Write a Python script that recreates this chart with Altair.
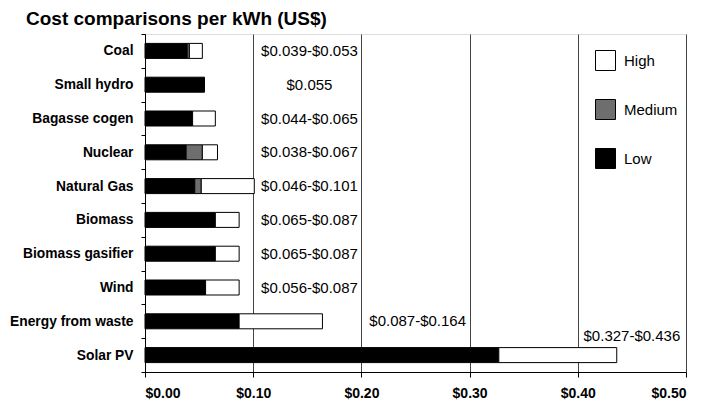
import altair as alt
import pandas as pd

categories = ["Coal", "Small hydro", "Bagasse cogen", "Nuclear", "Natural Gas",
              "Biomass", "Biomass gasifier", "Wind", "Energy from waste", "Solar PV"]
low_end = [0.039, 0.055, 0.044, 0.038, 0.046, 0.065, 0.065, 0.056, 0.087, 0.327]
medium_end = [0.041, 0.055, 0.044, 0.053, 0.052, 0.065, 0.065, 0.056, 0.087, 0.327]
high_end = [0.053, 0.055, 0.065, 0.067, 0.101, 0.087, 0.087, 0.087, 0.164, 0.436]
range_labels = ["$0.039-$0.053", "$0.055", "$0.044-$0.065", "$0.038-$0.067",
                "$0.046-$0.101", "$0.065-$0.087", "$0.065-$0.087", "$0.056-$0.087",
                "$0.087-$0.164", "$0.327-$0.436"]
levels = ["High", "Medium", "Low"]
level_colors = ["white", "#6e6e6e", "black"]
x_ticks = [0.0, 0.1, 0.2, 0.3, 0.4, 0.5]

FONT = "Liberation Sans"

rows = []
for c, lo, me, hi in zip(categories, low_end, medium_end, high_end):
    for lev, s, e in (("Low", 0.0, lo), ("Medium", lo, me), ("High", me, hi)):
        if e - s > 1e-9:
            rows.append({"category": c, "level": lev, "start": s, "end": e})
seg = pd.DataFrame(rows)

lab = pd.DataFrame({"category": categories, "label": range_labels, "high": high_end})
# label anchor placement (in data units) – mimics the hand-placed labels
lab["lx"] = [0.152 if h < 0.12 else (0.252 if h < 0.3 else 0.45) for h in high_end]
lab_main = lab[lab["high"] < 0.3]
lab_solar = lab[lab["high"] >= 0.3]

y_enc = alt.Y("category:N", sort=categories,
              scale=alt.Scale(paddingInner=0, paddingOuter=0),
              axis=alt.Axis(title=None, labelFontWeight="bold", labelFontSize=13.8,
                            labelColor="black", labelFont=FONT, labelPadding=8,
                            tickSize=4, tickBand="extent", tickColor="black",
                            domainColor="black", minExtent=137, maxExtent=137))
x_scale = alt.Scale(domain=[0, 0.5], nice=False)

bars = alt.Chart(seg).mark_bar(size=15, stroke="black", strokeWidth=1).encode(
    y=y_enc,
    x=alt.X("start:Q", scale=x_scale,
            axis=alt.Axis(values=x_ticks, format="$.2f", title=None, grid=True,
                          gridColor="#444444", gridWidth=1, labelFontWeight="bold",
                          labelFontSize=14, labelFont=FONT, labelColor="black",
                          tickSize=5, tickColor="black", domainColor="black",
                          labelPadding=9)),
    x2="end:Q",
    color=alt.Color("level:N",
                    scale=alt.Scale(domain=levels, range=level_colors),
                    legend=alt.Legend(title=None, orient="none", legendX=450, legendY=16,
                                      symbolType="square", symbolSize=400,
                                      symbolStrokeColor="black", symbolStrokeWidth=1,
                                      symbolOpacity=1, labelFontSize=15, labelFont=FONT,
                                      labelColor="black", rowPadding=24, labelOffset=8,
                                      padding=0)),
)

text_main = alt.Chart(lab_main).mark_text(fontSize=15, font=FONT, color="black",
                                          align="center", baseline="middle").encode(
    y=alt.Y("category:N", sort=categories),
    x=alt.X("lx:Q", scale=x_scale),
    text="label:N",
)
text_solar = alt.Chart(lab_solar).mark_text(fontSize=15, font=FONT, color="black",
                                            align="center", baseline="middle", dy=-19).encode(
    y=alt.Y("category:N", sort=categories),
    x=alt.X("lx:Q", scale=x_scale),
    text="label:N",
)

chart = alt.layer(bars, text_main, text_solar).properties(
    width=541, height=338,
    title=alt.TitleParams("Cost comparisons per kWh (US$)", anchor="start", fontSize=19,
                          fontWeight="bold", font=FONT, color="black", dx=18, offset=-2,
                          frame="bounds"),
    padding={"left": 0, "top": 2, "right": 5, "bottom": 5},
).configure_view(stroke="#444444", strokeWidth=1).configure(font=FONT)

chart.save("out.html", embed_options={"renderer": "svg", "actions": False})
